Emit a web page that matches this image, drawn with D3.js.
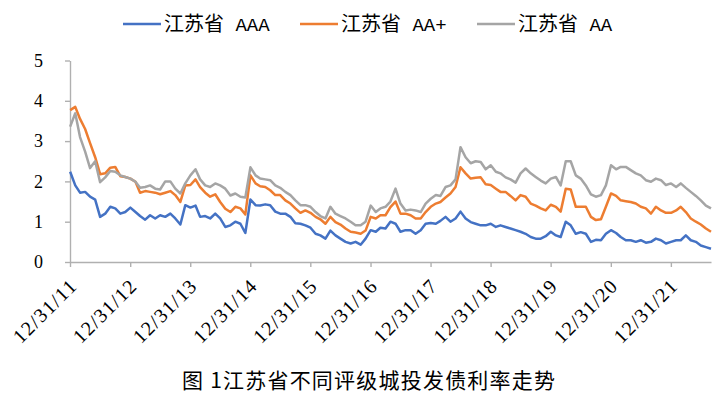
<!DOCTYPE html>
<html>
<head>
<meta charset="utf-8">
<title>江苏省不同评级城投发债利率走势</title>
<script src="https://cdn.jsdelivr.net/npm/d3@7/dist/d3.min.js"></script>
<style>
  body { margin: 0; background: #fff; }
  svg { display: block; }
  .axis path, .axis line { stroke: #b0b0b0; stroke-width: 1.4px; }
</style>
</head>
<body>
<svg id="chart" width="720" height="401"></svg>
<script>
// monthly readings, first point = Jan 2012
const firstMonth = "2012-01";
const tickLabels = ["12/31/11", "12/31/12", "12/31/13", "12/31/14", "12/31/15", "12/31/16",
                    "12/31/17", "12/31/18", "12/31/19", "12/31/20", "12/31/21"];
const yTicks = [0, 1, 2, 3, 4, 5];
const seriesNames = ["江苏省 AAA", "江苏省 AA+", "江苏省 AA"];
const seriesColors = ["#4472c4", "#ed7d31", "#a5a5a5"];
const caption = "图 1江苏省不同评级城投发债利率走势";

const aaa = [
  2.24, 1.90, 1.72, 1.74, 1.62, 1.55, 1.12, 1.20, 1.37, 1.33, 1.20, 1.24,
  1.35, 1.24, 1.14, 1.05, 1.16, 1.08, 1.16, 1.12, 1.20, 1.08, 0.93, 1.41,
  1.35, 1.40, 1.12, 1.14, 1.08, 1.20, 1.08, 0.87, 0.91, 1.00, 0.95, 0.72,
  1.55, 1.41, 1.40, 1.43, 1.41, 1.25, 1.20, 1.20, 1.12, 0.96, 0.95, 0.91,
  0.85, 0.70, 0.66, 0.58, 0.78, 0.66, 0.58, 0.50, 0.46, 0.50, 0.43, 0.58,
  0.79, 0.75, 0.85, 0.83, 1.00, 0.95, 0.75, 0.79, 0.79, 0.70, 0.79, 0.95,
  0.97, 0.95, 1.02, 1.12, 1.00, 1.08, 1.25, 1.08, 0.99, 0.95, 0.91, 0.91,
  0.95, 0.87, 0.91, 0.87, 0.83, 0.79, 0.75, 0.70, 0.62, 0.58, 0.58, 0.64,
  0.75, 0.66, 0.62, 1.00, 0.91, 0.70, 0.74, 0.70, 0.50, 0.55, 0.54, 0.70,
  0.79, 0.72, 0.62, 0.54, 0.54, 0.50, 0.54, 0.48, 0.50, 0.58, 0.54, 0.46,
  0.50, 0.54, 0.54, 0.66, 0.54, 0.50, 0.41, 0.37, 0.33
];
const aaPlus = [
  3.77, 3.85, 3.55, 3.30, 2.95, 2.60, 2.18, 2.20, 2.34, 2.36, 2.13, 2.11,
  2.07, 1.99, 1.72, 1.76, 1.74, 1.72, 1.68, 1.72, 1.76, 1.66, 1.49, 1.90,
  1.91, 2.05, 1.86, 1.72, 1.62, 1.68, 1.49, 1.32, 1.24, 1.37, 1.33, 1.18,
  2.15, 1.95, 1.88, 1.86, 1.78, 1.66, 1.66, 1.53, 1.45, 1.33, 1.22, 1.28,
  1.22, 1.12, 1.06, 0.95, 1.12, 0.99, 0.93, 0.83, 0.75, 0.73, 0.70, 0.78,
  1.12, 1.08, 1.16, 1.16, 1.36, 1.50, 1.20, 1.20, 1.16, 1.08, 1.08, 1.24,
  1.37, 1.45, 1.49, 1.60, 1.70, 1.86, 2.35, 2.20, 2.07, 2.09, 2.10, 1.93,
  1.91, 1.82, 1.74, 1.74, 1.64, 1.53, 1.66, 1.62, 1.45, 1.40, 1.33, 1.28,
  1.42, 1.37, 1.25, 1.82, 1.80, 1.37, 1.37, 1.37, 1.12, 1.04, 1.06, 1.37,
  1.70, 1.64, 1.53, 1.51, 1.49, 1.45, 1.37, 1.33, 1.20, 1.37, 1.28, 1.22,
  1.22, 1.28, 1.37, 1.24, 1.08, 1.00, 0.93, 0.83, 0.75
];
const aa = [
  3.36, 3.69, 3.10, 2.74, 2.33, 2.50, 1.98, 2.10, 2.26, 2.24, 2.15, 2.11,
  2.07, 1.99, 1.84, 1.86, 1.90, 1.82, 1.80, 2.00, 2.00, 1.82, 1.70, 1.95,
  2.15, 2.30, 2.05, 1.90, 1.86, 1.95, 1.90, 1.82, 1.65, 1.70, 1.62, 1.60,
  2.35, 2.15, 2.07, 2.05, 2.03, 1.90, 1.84, 1.74, 1.66, 1.53, 1.41, 1.41,
  1.37, 1.24, 1.14, 1.08, 1.37, 1.20, 1.14, 1.08, 1.00, 0.91, 0.91, 1.00,
  1.40, 1.24, 1.33, 1.37, 1.50, 1.82, 1.45, 1.28, 1.30, 1.28, 1.24, 1.45,
  1.57, 1.66, 1.64, 1.86, 1.90, 2.05, 2.85, 2.60, 2.45, 2.50, 2.48, 2.30,
  2.40, 2.24, 2.20, 2.10, 2.05, 1.97, 2.20, 2.32, 2.20, 2.11, 2.02, 1.95,
  2.07, 2.11, 1.90, 2.50, 2.50, 2.15, 2.07, 1.90, 1.68, 1.62, 1.66, 1.90,
  2.40, 2.30, 2.36, 2.36, 2.28, 2.20, 2.15, 2.03, 1.99, 2.07, 2.03, 1.91,
  1.95, 1.86, 1.95, 1.84, 1.74, 1.64, 1.53, 1.40, 1.33
];

const serif = "Liberation Serif";
const cjk = "Noto Sans CJK SC";

const svg = d3.select("#chart");
const margin = {top: 60.5, left: 70, right: 9, bottom: 139};
const width = 720 - margin.left - margin.right;
const height = 401 - margin.top - margin.bottom;

const start = d3.timeParse("%Y-%m")(firstMonth);
const dates = aaa.map((_, i) => d3.timeMonth.offset(start, i));
const tickDates = tickLabels.map(d3.timeParse("%m/%d/%y"));

const x = d3.scaleTime()
  .domain([tickDates[0], dates[dates.length - 1]])
  .range([0, width]);
const y = d3.scaleLinear().domain([0, 5]).range([height, 0]);

const g = svg.append("g").attr("transform", `translate(${margin.left},${margin.top})`);

// y axis
g.append("g")
  .attr("class", "axis")
  .call(d3.axisLeft(y).tickValues(yTicks).tickFormat(d3.format("d"))
    .tickSize(5).tickPadding(22).tickSizeOuter(0))
  .call(a => a.selectAll("text")
    .attr("font-family", serif)
    .attr("font-size", 18)
    .attr("fill", "#000"));

// x axis with slanted labels
g.append("g")
  .attr("class", "axis")
  .attr("transform", `translate(0,${height})`)
  .call(d3.axisBottom(x).tickValues(tickDates).tickSize(5).tickSizeOuter(0)
    .tickFormat((d, i) => tickLabels[i]))
  .call(a => a.selectAll("text")
    .attr("font-family", serif)
    .attr("font-size", 20)
    .attr("fill", "#000")
    .attr("text-anchor", "end")
    .attr("x", 0).attr("y", 0).attr("dy", "0.35em")
    .attr("textLength", 80)
    .attr("transform", "translate(2,21) rotate(-45)"));

// series
const series = [aaa, aaPlus, aa];
const line = d3.line()
  .x((d, i) => x(dates[i]))
  .y(d => y(d));

g.append("g")
  .selectAll("path")
  .data(series)
  .join("path")
  .attr("fill", "none")
  .attr("stroke", (d, i) => seriesColors[i])
  .attr("stroke-width", 2.5)
  .attr("stroke-linejoin", "round")
  .attr("d", line);

// legend
const legendX = [123, 300, 477];
const legend = svg.append("g")
  .selectAll("g")
  .data(seriesNames)
  .join("g")
  .attr("transform", (d, i) => `translate(${legendX[i]},24)`);

legend.append("line")
  .attr("x1", 0).attr("x2", 38)
  .attr("stroke", (d, i) => seriesColors[i])
  .attr("stroke-width", 2.6);

const lt = legend.append("text")
  .attr("x", 41).attr("y", 7)
  .attr("fill", "#000");
lt.append("tspan").attr("font-family", cjk).attr("font-size", 20)
  .text(d => d.split(" ")[0]);
lt.append("tspan").attr("font-family", "Liberation Mono").attr("font-size", 19)
  .text(d => "\u00a0" + d.split(" ")[1]);

// caption
svg.append("text")
  .attr("font-family", cjk)
  .attr("x", 182).attr("y", 388)
  .attr("font-size", 21)
  .attr("textLength", 373)
  .attr("lengthAdjust", "spacing")
  .attr("fill", "#000")
  .text(caption);
</script>
</body>
</html>
